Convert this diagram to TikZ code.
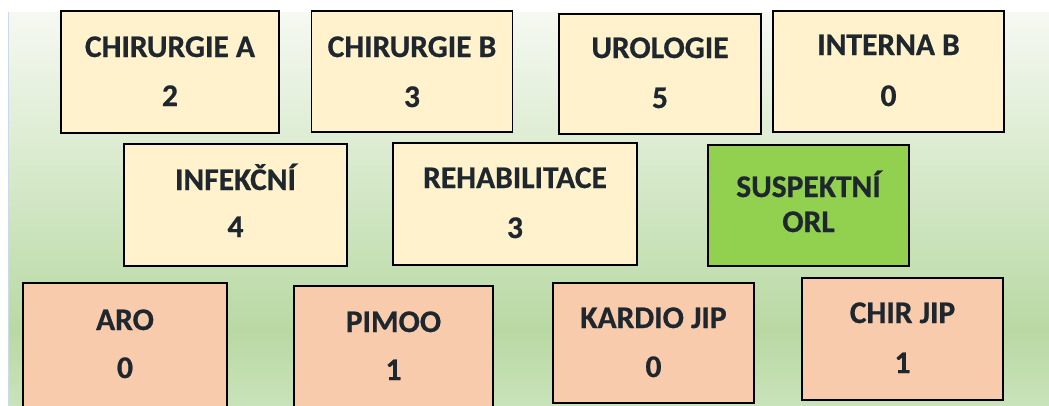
\documentclass[tikz,border=0pt]{standalone}
\usepackage{fontspec}
\setmainfont{Carlito}[BoldFeatures={FakeBold=0.6}]
\definecolor{cream}{HTML}{FFF2CC}
\definecolor{salmon}{HTML}{F8CBAD}
\definecolor{lgreen}{HTML}{92D050}
\definecolor{txt}{HTML}{1E262E}
\definecolor{bgA}{HTML}{C9E3BA}
\definecolor{bgB}{HTML}{B9D9A3}
\definecolor{bgC}{HTML}{C5E0B4}
\definecolor{bgD}{HTML}{F6F9F2}
\definecolor{edgeblue}{HTML}{C9DAF0}
\pgfdeclareverticalshading{bgshade}{100bp}{color(0bp)=(bgA); color(25bp)=(bgA); color(34.5bp)=(bgB); color(42.8bp)=(bgC); color(75bp)=(bgD); color(100bp)=(bgD)}
\begin{document}
\begin{tikzpicture}[x=1pt,y=-1pt,
  box/.style={draw=black, line width=1.3pt, inner sep=0pt, rectangle},
  cbox/.style={box, fill=cream},
  sbox/.style={box, fill=salmon},
  gbox/.style={box, fill=lgreen},
  lbl/.style={anchor=base, text=txt, font=\fontsize{31.5}{36}\selectfont\bfseries, inner sep=0pt}
]
\useasboundingbox (0,0) rectangle (1049,405);
\fill[white] (0,0) rectangle (1049,405);
\shade[shading=bgshade] (8,12) rectangle (1049,405);
\draw[edgeblue, line width=0.8pt] (8,12) -- (8,405);

% top row
\node[cbox, minimum width=218pt, minimum height=122pt] (chira) at (170,72) {};
\node[lbl] (chira-t) at (170,57) {CHIRURGIE A};
\node[lbl] (chira-n) at (170,106) {2};

\node[cbox, minimum width=201pt, minimum height=121pt] (chirb) at (412,71.5) {};
\node[lbl] (chirb-t) at (412,57) {CHIRURGIE B};
\node[lbl] (chirb-n) at (412,107) {3};

\node[cbox, minimum width=202pt, minimum height=120pt] (uro) at (660,74) {};
\node[lbl] (uro-t) at (660,58) {UROLOGIE};
\node[lbl] (uro-n) at (660,108) {5};

\node[cbox, minimum width=231pt, minimum height=121pt] (intb) at (888.5,71.5) {};
\node[lbl] (intb-t) at (888.5,55) {INTERNA B};
\node[lbl] (intb-n) at (888.5,106) {0};

% middle row
\node[cbox, minimum width=223pt, minimum height=122pt] (inf) at (235.5,205) {};
\node[lbl] (inf-t) at (235.5,190) {INFEKČNÍ};
\node[lbl] (inf-n) at (235.5,237) {4};

\node[cbox, minimum width=244pt, minimum height=122pt] (reh) at (515,204) {};
\node[lbl] (reh-t) at (515,188) {REHABILITACE};
\node[lbl] (reh-n) at (515,238) {3};

\node[gbox, minimum width=201pt, minimum height=121pt] (susp) at (808.5,205.5) {};
\node[lbl] (susp-t) at (808.5,197) {SUSPEKTNÍ};
\node[lbl] (susp-n) at (808.5,232) {ORL};

% bottom row
\node[sbox, minimum width=204pt, minimum height=137pt] (aro) at (125,351.5) {};
\node[lbl] (aro-t) at (125,330) {ARO};
\node[lbl] (aro-n) at (125,378) {0};

\node[sbox, minimum width=199pt, minimum height=134pt] (pimoo) at (393.5,353) {};
\node[lbl] (pimoo-t) at (393.5,332) {PIMOO};
\node[lbl] (pimoo-n) at (393.5,380) {1};

\node[sbox, minimum width=201pt, minimum height=120pt] (kardio) at (653.5,343) {};
\node[lbl] (kardio-t) at (653.5,328) {KARDIO JIP};
\node[lbl] (kardio-n) at (653.5,377) {0};

\node[sbox, minimum width=201pt, minimum height=122pt] (chirjip) at (902.5,339) {};
\node[lbl] (chirjip-t) at (902.5,323) {CHIR JIP};
\node[lbl] (chirjip-n) at (902.5,373) {1};
\end{tikzpicture}
\end{document}
